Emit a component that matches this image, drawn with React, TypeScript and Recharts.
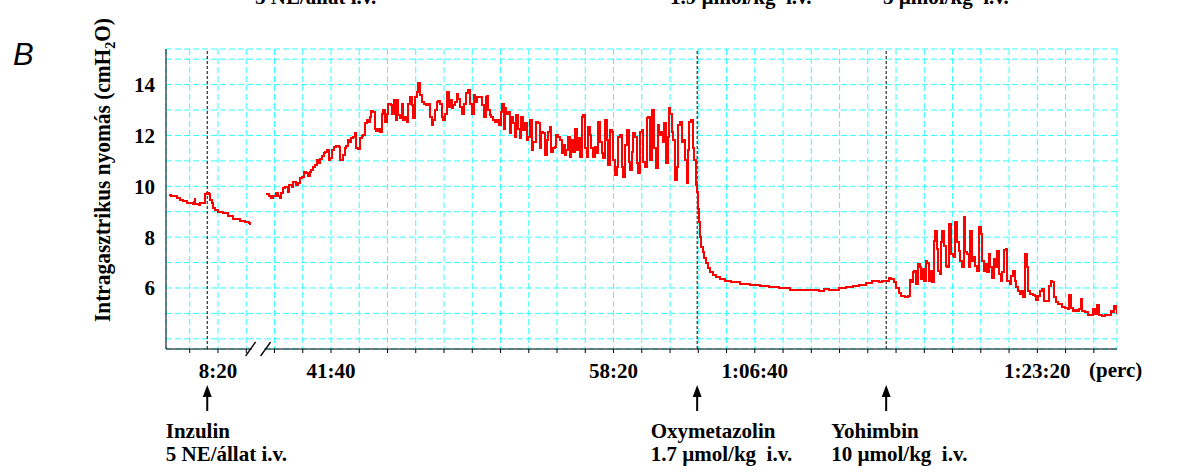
import React from 'react';
import { LineChart, Line, XAxis, YAxis, CartesianGrid, ReferenceLine } from 'recharts';

// Intragastric pressure record: [time (s), pressure (cmH2O)]
const baselineTrace: [number, number][] = [
  [326, 9.67], [335, 9.62], [347, 9.6], [356, 9.52], [365, 9.45], [375, 9.42], [389, 9.35],
  [400, 9.33], [410, 9.3], [414, 9.4], [417, 9.5], [420, 9.32], [432, 9.25], [435, 9.33],
  [446, 9.36], [453, 9.7], [460, 9.75], [467, 9.7], [471, 9.45], [478, 9.33], [481, 9.15],
  [490, 9.08], [499, 9.0], [517, 8.95], [534, 8.82], [552, 8.7], [577, 8.64], [595, 8.6],
  [610, 8.55], [615, 8.48],
];

const insulinRiseTrace: [number, number][] = [
  [2270, 9.69], [2282, 9.62], [2288, 9.53], [2296, 9.62], [2306, 9.75], [2312, 9.6], [2318, 9.55],
  [2324, 9.72], [2330, 9.92], [2338, 9.99], [2347, 9.79], [2353, 10.05], [2362, 9.96], [2367, 10.18],
  [2375, 10.05], [2383, 10.12], [2391, 10.31], [2399, 10.38], [2404, 10.58], [2412, 10.51],
  [2418, 10.41], [2424, 10.58], [2430, 10.64], [2436, 10.77], [2442, 10.84], [2450, 11.03],
  [2456, 10.93], [2462, 11.06], [2468, 11.2], [2474, 11.29], [2480, 11.36], [2486, 11.42],
  [2492, 11.03], [2498, 11.1], [2503, 11.42], [2511, 11.53], [2519, 11.58], [2527, 11.56],
  [2533, 11.03], [2543, 11.23], [2548, 11.49], [2554, 11.58], [2560, 11.82], [2566, 11.75],
  [2572, 11.88], [2578, 11.95], [2584, 12.08], [2590, 11.49], [2596, 11.45], [2602, 11.88],
  [2608, 11.97], [2614, 12.01], [2620, 12.47], [2626, 12.6], [2632, 12.54], [2637, 12.73],
  [2643, 12.97], [2649, 12.93], [2655, 12.27], [2661, 12.18], [2667, 12.27], [2673, 12.14],
  [2679, 12.86], [2685, 12.99], [2691, 12.54], [2697, 12.86], [2703, 13.25], [2711, 13.19],
  [2717, 12.86], [2723, 13.39], [2729, 12.6], [2732, 13.41], [2738, 12.8], [2744, 12.67],
  [2750, 13.25], [2756, 12.6], [2762, 12.73], [2768, 12.54], [2774, 13.25], [2780, 13.52],
  [2785, 13.19], [2791, 12.67], [2797, 13.52], [2803, 13.71], [2809, 14.07], [2815, 13.58],
  [2821, 13.32], [2829, 13.25], [2838, 13.19], [2844, 13.25], [2850, 12.73], [2856, 12.41],
  [2862, 12.6], [2868, 12.99], [2874, 13.32], [2880, 13.36], [2886, 13.25], [2892, 12.73],
  [2898, 12.6], [2904, 12.86], [2910, 13.71], [2916, 13.12], [2922, 13.39], [2928, 13.06],
  [2933, 13.19], [2939, 13.32], [2945, 13.62], [2951, 13.45], [2957, 13.12], [2963, 12.86],
  [2969, 13.25], [2977, 13.67], [2985, 13.78], [2993, 13.25], [2999, 12.86], [3005, 13.58],
  [3011, 13.32], [3017, 13.52], [3029, 13.52], [3035, 13.19],
];

const insulinPlateauTrace: [number, number][] = [
  [3041, 12.73], [3047, 13.52], [3053, 13.54], [3056, 12.99], [3062, 12.8], [3068, 12.73],
  [3074, 12.6], [3082, 12.54], [3088, 12.6], [3094, 12.41], [3100, 12.93], [3106, 13.25],
  [3112, 12.27], [3115, 13.06], [3121, 12.86], [3126, 12.93], [3132, 12.08], [3138, 12.73],
  [3144, 12.47], [3150, 11.95], [3156, 12.8], [3162, 12.27], [3168, 11.88], [3174, 12.73],
  [3180, 12.21], [3186, 12.47], [3192, 11.82], [3198, 11.95], [3204, 12.6], [3210, 11.42],
  [3216, 11.75], [3221, 11.75], [3227, 12.54], [3233, 12.47], [3239, 11.49], [3245, 12.14],
  [3251, 12.08], [3257, 11.23], [3263, 11.82], [3269, 12.14], [3275, 12.34], [3280, 11.36],
  [3286, 11.49], [3292, 11.56], [3298, 12.01], [3304, 11.95], [3310, 11.82], [3316, 11.29],
  [3322, 11.62], [3327, 11.23], [3333, 11.42], [3339, 11.95], [3345, 11.16], [3351, 11.82],
  [3357, 11.36], [3363, 12.27], [3369, 11.42], [3375, 11.88], [3381, 11.16], [3387, 12.73],
  [3393, 12.8], [3399, 11.49], [3405, 11.16], [3411, 12.34], [3417, 12.01], [3422, 11.49],
  [3428, 11.16], [3434, 11.56], [3440, 11.29], [3446, 12.54], [3452, 11.75], [3458, 11.29],
  [3464, 11.1], [3470, 12.6], [3476, 11.82], [3481, 10.84], [3487, 12.21], [3493, 12.14],
  [3499, 11.03], [3505, 10.44], [3511, 10.77], [3517, 11.95], [3523, 12.01], [3529, 10.77],
  [3535, 10.38], [3541, 11.62], [3547, 12.21], [3553, 10.97], [3559, 10.64], [3564, 11.36],
  [3570, 12.08], [3576, 11.95], [3582, 10.9], [3588, 10.51], [3594, 12.14], [3600, 12.21],
  [3605, 10.97], [3611, 10.77], [3617, 12.67], [3623, 12.73], [3629, 11.03], [3635, 12.99],
  [3639, 13.02], [3644, 11.49], [3650, 10.71], [3656, 12.41], [3662, 12.01], [3668, 12.14],
  [3674, 11.75], [3680, 12.47], [3686, 10.9], [3692, 11.95], [3695, 13.06], [3701, 12.86],
  [3706, 12.14], [3712, 11.82], [3718, 10.25], [3724, 10.77], [3729, 12.41], [3735, 12.54],
  [3741, 11.75], [3747, 11.82], [3753, 11.03], [3759, 10.12], [3765, 11.42], [3768, 12.54],
  [3774, 12.6], [3780, 11.49], [3786, 11.03], [3792, 10.05], [3796, 9.79],
];

const oxymetazolineTrace: [number, number][] = [
  [3798, 9.12], [3802, 8.6], [3806, 8.01], [3810, 7.62], [3815, 7.42], [3821, 7.16], [3827, 6.97],
  [3835, 6.77], [3843, 6.64], [3853, 6.51], [3864, 6.42], [3876, 6.34], [3894, 6.27], [3917, 6.22],
  [3947, 6.16], [3982, 6.12], [4017, 6.08], [4052, 6.03], [4087, 5.99], [4123, 5.92], [4158, 5.92],
  [4193, 5.91], [4228, 5.9], [4246, 5.95], [4263, 5.92], [4299, 5.99], [4322, 6.05], [4346, 6.09],
  [4369, 6.12], [4393, 6.21], [4416, 6.29],
];

const yohimbineTrace: [number, number][] = [
  [4438, 6.22], [4450, 6.26], [4462, 6.28], [4474, 6.38], [4483, 6.35], [4492, 6.22], [4500, 6.0],
  [4510, 5.82], [4519, 5.69], [4531, 5.63], [4543, 5.69], [4548, 6.31], [4554, 6.22], [4559, 6.61],
  [4565, 6.68], [4571, 6.15], [4577, 6.94], [4583, 6.81], [4589, 6.35], [4593, 6.74], [4599, 6.28],
  [4605, 7.07], [4611, 7.0], [4617, 6.28], [4622, 6.68], [4628, 6.22], [4634, 7.86], [4638, 8.25],
  [4644, 7.53], [4650, 6.68], [4655, 6.55], [4659, 7.79], [4664, 8.25], [4670, 7.66], [4676, 6.87],
  [4682, 6.81], [4688, 8.51], [4694, 7.33], [4700, 7.27], [4706, 7.2], [4709, 8.58], [4715, 7.79],
  [4721, 7.46], [4727, 7.07], [4733, 6.81], [4739, 8.78], [4745, 7.4], [4751, 7.33], [4757, 6.81],
  [4763, 8.25], [4769, 7.07], [4775, 7.2], [4781, 6.87], [4787, 6.68], [4793, 8.38], [4799, 8.12],
  [4805, 7.07], [4810, 6.68], [4816, 6.94], [4822, 6.61], [4828, 7.33], [4834, 6.81], [4840, 6.41],
  [4846, 7.14], [4852, 6.81], [4858, 7.46], [4864, 6.55], [4870, 6.28], [4876, 6.61], [4882, 7.49],
  [4888, 7.53], [4894, 6.28], [4902, 6.15], [4908, 6.48], [4914, 6.68], [4920, 6.28], [4926, 6.02],
  [4932, 5.89], [4938, 5.76], [4944, 5.89], [4950, 5.63], [4956, 7.33], [4962, 6.81], [4967, 5.89],
  [4973, 5.76], [4983, 5.73], [4991, 5.69], [4997, 5.54], [5003, 5.69], [5011, 5.89], [5017, 5.95],
  [5023, 5.5], [5033, 5.47], [5041, 6.09], [5047, 6.28], [5053, 6.22], [5059, 5.63], [5066, 5.43],
  [5074, 5.36], [5086, 5.26], [5098, 5.2], [5107, 5.17], [5113, 5.73], [5118, 5.23], [5125, 5.1],
  [5133, 5.13], [5141, 5.08], [5147, 5.17], [5153, 5.56], [5159, 5.1], [5168, 5.04], [5179, 4.94],
  [5191, 4.94], [5197, 5.17], [5203, 4.97], [5211, 5.34], [5217, 4.93], [5229, 4.9], [5241, 4.93],
  [5253, 4.94], [5259, 5.1], [5265, 5.04], [5271, 5.3], [5277, 5.17], [5281, 4.97],
];

const drugEvents = [
  { name: 'Inzulin', dose: '5 NE/állat i.v.', time: 462, dx: -41.5 },
  { name: 'Oxymetazolin', dose: '1.7 µmol/kg  i.v.', time: 3796, dx: -46.5 },
  { name: 'Yohimbin', dose: '10 µmol/kg  i.v.', time: 4465, dx: -55 },
];

// partially visible annotations of the panel above (cut by the top edge, as in the original)
const panelAboveTexts = [
  { text: '5 NE/állat i.v.', x: 255 },
  { text: '1.9 µmol/kg  i.v.', x: 670 },
  { text: '3 µmol/kg  i.v.', x: 883 },
];

const labelledTimes = [500, 2500, 3500, 4000, 5000];
const pressureTicks = [4, 5, 6, 7, 8, 9, 10, 11, 12, 13, 14, 15];
const labelledPressures = [6, 8, 10, 12, 14];

// time axis is interrupted between 10:15 and 37:50
const GAP_START = 650;
const GAP_SECONDS = 1600;
const toAxis = (t: number) => (t < GAP_START ? t : t - GAP_SECONDS);
const fromAxis = (v: number) => (v < GAP_START ? v : v + GAP_SECONDS);
const AXIS_DOMAIN: [number, number] = [316, 3682];
const BREAK_AT = 642;

const gridTimes: number[] = [];
for (let v = 400; v <= 3600; v += 100) gridTimes.push(v);

const data: { x: number; p: number | null }[] = [
  ...baselineTrace.map(([t, p]) => ({ x: toAxis(t), p })),
  { x: BREAK_AT, p: null },
  ...insulinRiseTrace.map(([t, p]) => ({ x: toAxis(t), p })),
  ...insulinPlateauTrace.map(([t, p]) => ({ x: toAxis(t), p })),
  ...oxymetazolineTrace.map(([t, p]) => ({ x: toAxis(t), p })),
  ...yohimbineTrace.map(([t, p]) => ({ x: toAxis(t), p })),
];

const pad = (n: number) => String(n).padStart(2, '0');
const formatTime = (s: number) => {
  const h = Math.floor(s / 3600);
  const m = Math.floor((s % 3600) / 60);
  const sec = s % 60;
  return h > 0 ? `${h}:${pad(m)}:${pad(sec)}` : `${m}:${pad(sec)}`;
};

const W = 1177;
const H = 476;
const PLOT_LEFT = 166;
const PLOT_RIGHT = 1117;
const PLOT_TOP = 49;
const PLOT_BOTTOM = 349;
const Y_AXIS_W = 60;
const X_AXIS_H = 30;

const serif = '"Liberation Serif", "Times New Roman", Times, serif';
const textStyle: React.CSSProperties = {
  fontFamily: serif,
  fontWeight: 700,
  fontSize: 21,
  fill: '#000',
  whiteSpace: 'pre',
};

const EventMarker = (props: any) => {
  const { viewBox, name, dose, dx } = props;
  if (!viewBox) return null;
  const x = viewBox.x;
  const bottom = viewBox.y + viewBox.height;
  return (
    <g>
      <line x1={x} x2={x} y1={bottom + 44} y2={bottom + 62} stroke="#000" strokeWidth={2} />
      <polygon
        points={`${x},${bottom + 36} ${x - 4.5},${bottom + 48} ${x + 4.5},${bottom + 48}`}
        fill="#000"
      />
      <text x={x + dx} y={bottom + 89} style={textStyle}>{name}</text>
      <text x={x + dx} y={bottom + 112} style={textStyle}>{dose}</text>
    </g>
  );
};

const axisX = (v: number) =>
  PLOT_LEFT + ((v - AXIS_DOMAIN[0]) / (AXIS_DOMAIN[1] - AXIS_DOMAIN[0])) * (PLOT_RIGHT - PLOT_LEFT);

export default function App() {
  const bx = axisX(BREAK_AT);
  return (
    <div style={{ position: 'absolute', left: 0, top: 0, width: W, height: H, background: '#fff' }}>
      <LineChart
        width={W}
        height={H}
        data={data}
        margin={{ top: PLOT_TOP, right: W - PLOT_RIGHT, bottom: H - PLOT_BOTTOM - X_AXIS_H, left: PLOT_LEFT - Y_AXIS_W }}
      >
        <CartesianGrid stroke="#33ffff" strokeDasharray="6 3" strokeWidth={1} />
        <XAxis
          type="number"
          dataKey="x"
          domain={AXIS_DOMAIN}
          ticks={gridTimes}
          interval={0}
          height={X_AXIS_H}
          allowDataOverflow
          axisLine={{ stroke: '#000', strokeWidth: 1 }}
          tickLine={{ stroke: '#000', strokeWidth: 1 }}
          tickSize={4}
          tickMargin={10}
          tick={{ fontFamily: serif, fontWeight: 700, fontSize: 21, fill: '#000' }}
          tickFormatter={(v: number) => {
            const t = fromAxis(v);
            return labelledTimes.includes(t) ? formatTime(t) : '';
          }}
        />
        <YAxis
          type="number"
          domain={[3.6, 15.4]}
          ticks={pressureTicks}
          interval={0}
          width={Y_AXIS_W}
          allowDataOverflow
          axisLine={{ stroke: '#000', strokeWidth: 1 }}
          tickLine={false}
          tickSize={0}
          tickMargin={11}
          tick={{ fontFamily: serif, fontWeight: 700, fontSize: 21, fill: '#000' }}
          tickFormatter={(v: number) => (labelledPressures.includes(v) ? String(v) : '')}
        />
        {drugEvents.map((e) => (
          <ReferenceLine
            key={e.name}
            x={toAxis(e.time)}
            stroke="#000"
            strokeWidth={1}
            strokeDasharray="3 2"
            label={<EventMarker name={e.name} dose={e.dose} dx={e.dx} />}
          />
        ))}
        <Line
          type="stepAfter"
          dataKey="p"
          stroke="#ff0000"
          strokeWidth={2}
          shapeRendering="crispEdges"
          dot={false}
          activeDot={false}
          connectNulls={false}
          isAnimationActive={false}
        />
      </LineChart>
      <svg
        width={W}
        height={H}
        style={{ position: 'absolute', left: 0, top: 0, pointerEvents: 'none' }}
      >
        {panelAboveTexts.map((t) => (
          <text key={t.text} x={t.x} y={4} style={textStyle}>{t.text}</text>
        ))}
        <text
          x={13}
          y={65}
          style={{ fontFamily: '"Liberation Sans", Arial, sans-serif', fontStyle: 'italic', fontSize: 31, fill: '#000' }}
        >
          B
        </text>
        <text
          transform="translate(110,170) rotate(-90)"
          textAnchor="middle"
          textLength={304}
          lengthAdjust="spacingAndGlyphs"
          style={{ fontFamily: serif, fontWeight: 700, fontSize: 23, fill: '#000' }}
        >
          Intragasztrikus nyomás (cmH<tspan dy={5} style={{ fontSize: 15 }}>2</tspan>
          <tspan dy={-5}>O)</tspan>
        </text>
        <text x={1089} y={377} style={textStyle}>(perc)</text>
        {/* axis break */}
        <rect x={bx - 6.5} y={PLOT_BOTTOM - 2} width={13} height={4} fill="#fff" />
        <line x1={bx - 12.5} y1={PLOT_BOTTOM + 7} x2={bx - 2.5} y2={PLOT_BOTTOM - 7} stroke="#000" strokeWidth={1.3} />
        <line x1={bx + 2.5} y1={PLOT_BOTTOM + 7} x2={bx + 12.5} y2={PLOT_BOTTOM - 7} stroke="#000" strokeWidth={1.3} />
      </svg>
    </div>
  );
}
